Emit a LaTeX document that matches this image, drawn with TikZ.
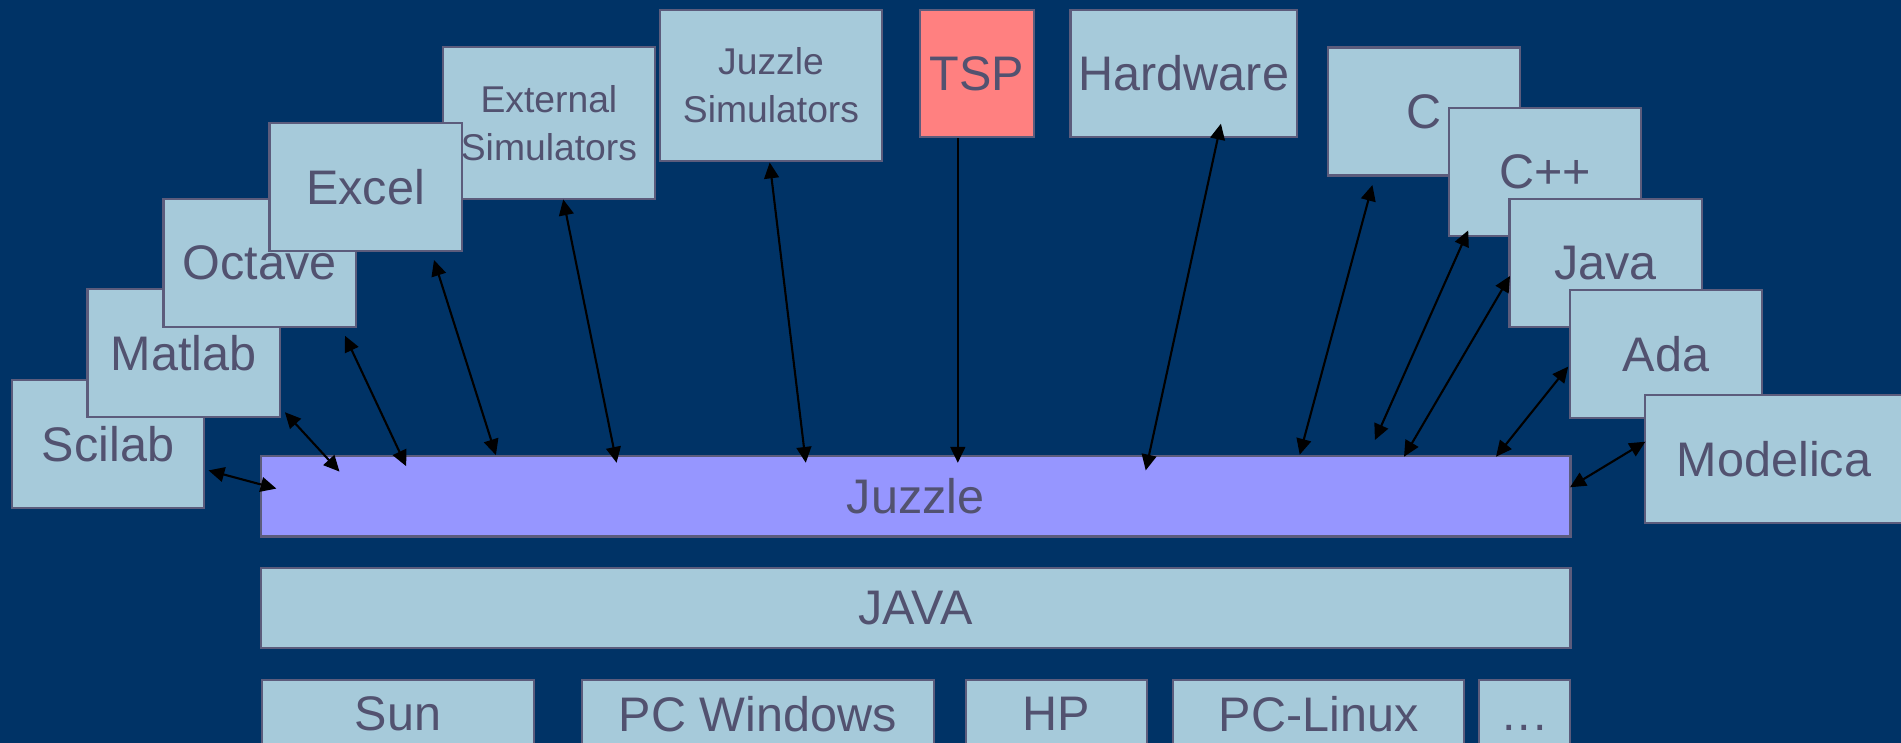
\documentclass[tikz,border=0pt]{standalone}
\usepackage{fontspec}
\setmainfont{Liberation Sans}
\usetikzlibrary{arrows.meta}
\definecolor{bg}{RGB}{0,51,102}
\definecolor{boxfill}{RGB}{166,202,218}
\definecolor{boxline}{RGB}{92,92,124}
\definecolor{txt}{RGB}{82,82,112}
\definecolor{juzfill}{RGB}{150,150,255}
\definecolor{tspfill}{RGB}{255,128,128}
\begin{document}
\begin{tikzpicture}[x=0.01cm,y=-0.01cm,
  blk/.style={draw=boxline, line width=0.6pt, fill=boxfill, text=txt, inner sep=0pt,
    font=\fontsize{13.8}{16}\selectfont, align=center},
  std/.style={blk, minimum width=1.92cm, minimum height=1.28cm},
  small/.style={font=\fontsize{10.6}{13.5}\selectfont},
  link/.style={line width=0.6pt, black, {Triangle[length=4.5pt,width=4.2pt]}-{Triangle[length=4.5pt,width=4.2pt]}},
  onelink/.style={line width=0.6pt, black, -{Triangle[length=4.5pt,width=4.2pt]}}
]
\fill[bg] (0,0) rectangle (1901,743);
\useasboundingbox (0,0) rectangle (1901,743);
\clip (0,0) rectangle (1901,743);

% left fan
\node[blk, small, minimum width=2.116cm, minimum height=1.515cm] (ext) at (548.9,123) {External\\Simulators};
\node[std] (scilab) at (108,444) {Scilab};
\node[std] (matlab) at (183.6,353.4) {Matlab};
\node[std] (octave) at (259.5,262.8) {Octave};
\node[std] (excel) at (365.6,186.8) {Excel};

% top row
\node[blk, small, minimum width=2.22cm, minimum height=1.507cm] (jsim) at (771,85.4) {Juzzle\\Simulators};
\node[blk, fill=tspfill, minimum width=1.14cm, minimum height=1.27cm] (tsp) at (977,73.5) {TSP};
\node[blk, minimum width=2.268cm, minimum height=1.27cm] (hw) at (1183.9,73.5) {Hardware};

% right fan
\node[std] (c) at (1424,111.5) {C};
\node[std] (cpp) at (1545,172.2) {C++};
\node[std] (java) at (1605.5,263) {Java};
\node[std] (ada) at (1666,353.8) {Ada};
\node[blk, minimum width=2.58cm, minimum height=1.283cm] (modelica) at (1774,459.2) {Modelica};

% layers
\node[blk, fill=juzfill, minimum width=13.087cm, minimum height=0.806cm] (juzzle) at (915.7,496.2) {Juzzle};
\node[blk, minimum width=13.087cm, minimum height=0.804cm] (javabar) at (915.7,608) {JAVA};

% platforms
\node[blk, minimum width=2.723cm, minimum height=0.68cm] (sun) at (397.9,714) {Sun};
\node[blk, minimum width=3.515cm, minimum height=0.68cm] (pcwin) at (757.8,714) {PC Windows};
\node[blk, minimum width=1.802cm, minimum height=0.68cm] (hp) at (1056.4,714) {HP};
\node[blk, minimum width=2.912cm, minimum height=0.68cm] (pclinux) at (1318.6,714) {PC-Linux};
\node[blk, minimum width=0.91cm, minimum height=0.68cm] (more) at (1524.5,714) {\vphantom{S}.\kern0.04em.\kern0.04em.};

% arrow end points
\coordinate (scilabP) at (208.5,470.4);  \coordinate (jz1) at (276.4,488.6);
\coordinate (matlabP) at (284.9,412.2);  \coordinate (jz2) at (339.5,471.6);
\coordinate (octaveP) at (345,335.8);    \coordinate (jz3) at (406.2,466.2);
\coordinate (excelP) at (434,260);       \coordinate (jz4) at (495.9,455.1);
\coordinate (extP) at (563.2,199.4);     \coordinate (jz5) at (616.6,462.8);
\coordinate (jsimP) at (769.7,162.5);    \coordinate (jz6) at (805.8,462.8);
\coordinate (tspP) at (957.8,138.2);     \coordinate (jz7) at (957.8,462.8);
\coordinate (hwP) at (1220.9,123.7);     \coordinate (jz8) at (1145.7,470.4);
\coordinate (cP) at (1372.4,185);        \coordinate (jz9) at (1299.7,454.7);
\coordinate (cppP) at (1468.2,230.4);    \coordinate (jz10) at (1374.9,440);
\coordinate (javaP) at (1510,276);       \coordinate (jz11) at (1404,456.7);
\coordinate (adaP) at (1568.2,366.6);    \coordinate (jz12) at (1496,456.7);
\coordinate (modP) at (1645.3,441.7);    \coordinate (jz13) at (1570,487.3);

\draw[link] (scilabP) -- (jz1);
\draw[link] (matlabP) -- (jz2);
\draw[link] (octaveP) -- (jz3);
\draw[link] (excelP) -- (jz4);
\draw[link] (extP) -- (jz5);
\draw[link] (jsimP) -- (jz6);
\draw[onelink] (tspP) -- (jz7);
\draw[link] (hwP) -- (jz8);
\draw[link] (cP) -- (jz9);
\draw[link] (cppP) -- (jz10);
\draw[link] (javaP) -- (jz11);
\draw[link] (adaP) -- (jz12);
\draw[link] (modP) -- (jz13);
\end{tikzpicture}
\end{document}
